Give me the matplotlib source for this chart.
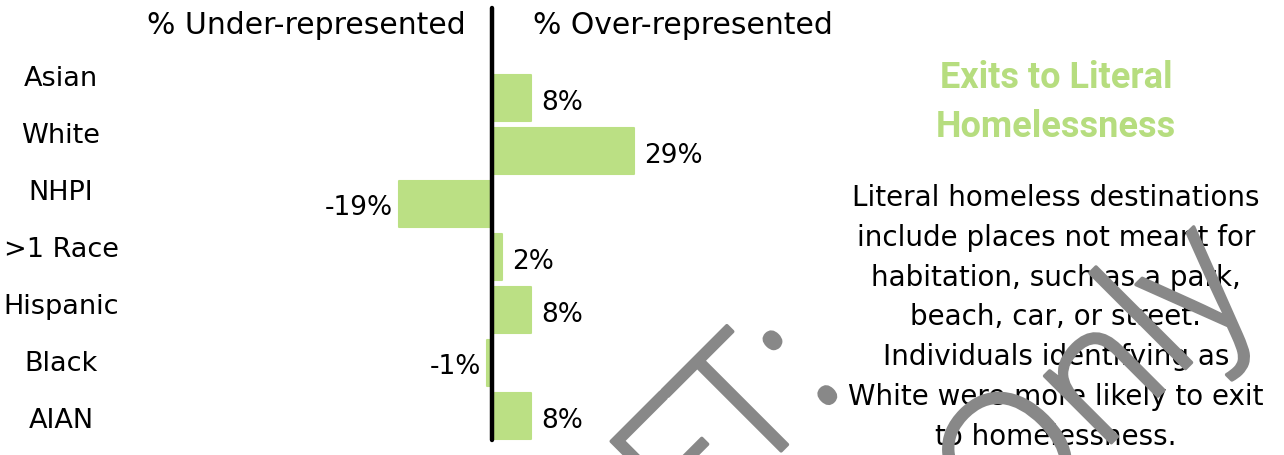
import matplotlib
matplotlib.use("Agg")
import matplotlib.pyplot as plt
import matplotlib.patheffects as pe

# share of exits to literal homelessness vs. share of population, by group
groups = ["Asian", "White", "NHPI", ">1 Race", "Hispanic", "Black", "AIAN"]
pct_diff = [8, 29, -19, 2, 8, -1, 8]
pct_labels = [f"{v}%" for v in pct_diff]

header_left = "% Under-represented"
header_right = "% Over-represented"
title_lines = ["Exits to Literal", "Homelessness"]
note_lines = [
    "Literal homeless destinations",
    "include places not meant for",
    "habitation, such as a park,",
    "beach, car, or street.",
    "Individuals identifying as",
    "White were more likely to exit",
    "to homelessness.",
]
watermark_lines = ["DRAFT:", "Internal Use Only"]

GREEN = "#bbe084"
TITLE_GREEN = "#b6dd7f"
GRAY = "#888888"
TEXT_FONT = "DejaVu Sans"

W, H = 1284, 455
fig = plt.figure(figsize=(W / 100, H / 100), dpi=100)


def fx(px):
    return px / W


def fy(py):
    return 1 - py / H


# bar panel, laid out in pixel terms
left_px, right_px = 300, 800
zero_px, px_per_pct = 492, 4.9
first_px, step_px = 98, 53

ax = fig.add_axes([fx(left_px), 0, fx(right_px) - fx(left_px), 1])
ax.set_xlim(-(zero_px - left_px) / px_per_pct, (right_px - zero_px) / px_per_pct)
ax.set_ylim((H - first_px) / step_px, -first_px / step_px)
ax.axis("off")

ypos = list(range(len(groups)))
ax.barh(ypos, pct_diff, height=0.88, color=GREEN, edgecolor=GREEN,
        linewidth=1.5, joinstyle="round", zorder=2)
ax.plot([0, 0], [(8 - first_px) / step_px, (440 - first_px) / step_px],
        color="black", lw=3.2, solid_capstyle="round", zorder=3)

for y, v, lab in zip(ypos, pct_diff, pct_labels):
    if v >= 0:
        ax.annotate(lab, xy=(v, y), xytext=(10, -5), textcoords="offset pixels",
                    ha="left", va="center", fontsize=19, family=TEXT_FONT)
    else:
        ax.annotate(lab, xy=(v, y), xytext=(-6, -4), textcoords="offset pixels",
                    ha="right", va="center", fontsize=19, family=TEXT_FONT)

# column headers
fig.text(fx(306), fy(25), header_left, ha="center", va="center",
         fontsize=21.5, family=TEXT_FONT)
fig.text(fx(683), fy(25), header_right, ha="center", va="center",
         fontsize=21.5, family=TEXT_FONT)

# group names down the left side
for i, g in enumerate(groups):
    fig.text(fx(61), fy(79 + 57 * i), g, ha="center", va="center",
             fontsize=19.5, family=TEXT_FONT)

# side panel title and note
for i, line in enumerate(title_lines):
    fig.text(fx(1056), fy(78 + 49 * i), line, ha="center", va="center",
             fontsize=26, family="Roboto", weight="bold", color=TITLE_GREEN)

for i, line in enumerate(note_lines):
    fig.text(fx(1056), fy(198 + 39.8 * i), line, ha="center", va="center",
             fontsize=20, family=TEXT_FONT)

# watermark, light face thickened a little with a same-colour stroke
thicken = [pe.withStroke(linewidth=2.5, foreground=GRAY)]
fig.text(fx(847), fy(385), watermark_lines[0], rotation=45, rotation_mode="anchor",
         ha="right", va="baseline", fontsize=128, color=GRAY,
         family="Open Sans", weight="light", zorder=10, path_effects=thicken)
fig.text(fx(1260), fy(294), watermark_lines[1], rotation=45, rotation_mode="anchor",
         ha="right", va="baseline", fontsize=128, color=GRAY,
         family="Open Sans", weight="light", zorder=10, path_effects=thicken)

fig.savefig("out.png", dpi=100)
